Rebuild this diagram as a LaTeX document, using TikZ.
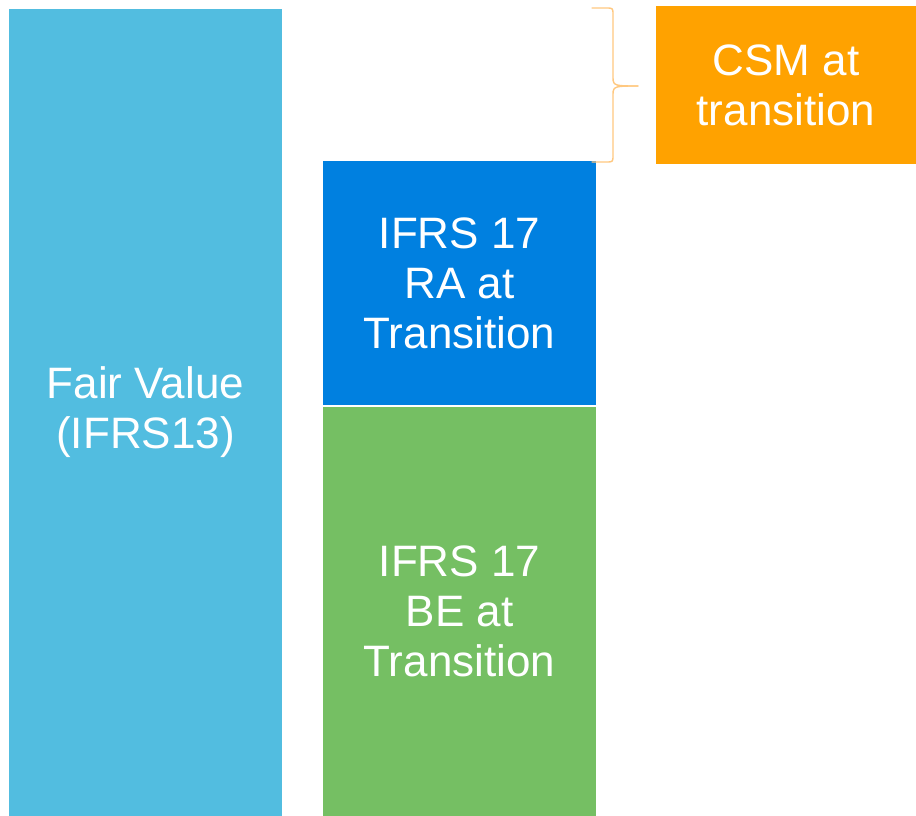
\documentclass[tikz,border=0pt]{standalone}
\usepackage{fontspec}
\setmainfont{Liberation Sans}
\definecolor{fvblue}{HTML}{52BDE0}
\definecolor{rablue}{HTML}{0080E0}
\definecolor{begreen}{HTML}{75BF63}
\definecolor{csmorange}{HTML}{FFA200}
\definecolor{bracecol}{HTML}{FFC880}
\begin{document}
\begin{tikzpicture}[x=1pt,y=-1pt,
  bar/.style={rectangle, anchor=north west, inner sep=0pt, outer sep=0pt, text=white, align=center,
    font=\fontsize{44}{50}\selectfont},
  bracestyle/.style={draw=bracecol, line width=1.4pt, line cap=round, line join=round}]
\useasboundingbox (0,0) rectangle (916,816);
\node[bar, fill=fvblue, minimum width=273pt, minimum height=807pt] (fv) at (9,9) {Fair Value\\(IFRS13)};
\node[bar, fill=rablue, minimum width=273pt, minimum height=244pt] (ra) at (323,161) {IFRS 17\\RA at\\Transition};
\node[bar, fill=begreen, minimum width=273pt, minimum height=409pt] (be) at (323,407) {IFRS 17\\BE at\\Transition};
\node[bar, fill=csmorange, minimum width=260pt, minimum height=158pt] (csm) at (656,6) {CSM at\\transition};
\coordinate (bt) at (592,8);
\coordinate (bb) at (592,162);
\coordinate (tip) at (638,86);
\draw[bracestyle] (bt) -- (606,8) .. controls (613,8) .. (613,15) -- (613,78)
  .. controls (613,86) and (616,86) .. (tip);
\draw[bracestyle] (tip) .. controls (616,86) and (613,86) .. (613,94) -- (613,155)
  .. controls (613,162) .. (606,162) -- (bb);
\end{tikzpicture}
\end{document}
